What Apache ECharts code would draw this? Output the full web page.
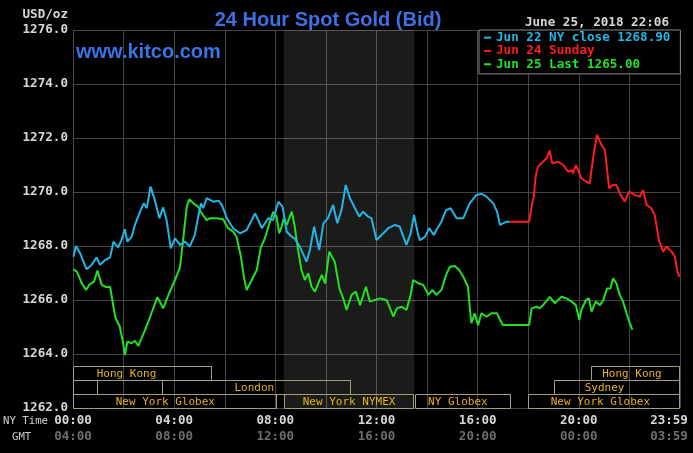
<!DOCTYPE html>
<html><head><meta charset="utf-8">
<script src="https://cdn.jsdelivr.net/npm/echarts@6/dist/echarts.min.js"></script>
<style>html,body{margin:0;padding:0;background:#000;}#c{width:693px;height:453px;}</style>
</head><body><div id="c"></div>
<script>
// ---- data (minutes after NY midnight, USD/oz) ----
const jun22Min = [1,7,17,32,44,56,64,76,88,96,107,115,123,129,139,147,159,168,175,184,194,205,214,222,232,242,254,266,277,289,297,304,309,317,333,345,353,365,380,396,412,432,448,463,475,487,497,507,519,526,538,554,562,572,584,594,605,617,627,637,647,657,669,679,688,700,708,720,732,748,764,775,791,801,809,819,823,835,845,856,862,874,885,896,910,926,941,957,969,981,997,1006,1013,1020,1029,1036];
const jun22Val = [1267.60,1268.00,1267.73,1267.14,1267.30,1267.58,1267.30,1267.48,1267.58,1268.16,1267.95,1268.22,1268.62,1268.16,1268.34,1268.78,1269.27,1269.58,1269.40,1270.20,1269.70,1269.03,1269.43,1268.96,1267.91,1268.28,1268.04,1268.16,1267.98,1268.41,1269.09,1269.58,1269.40,1269.77,1269.64,1269.68,1269.52,1269.03,1268.66,1268.47,1268.59,1269.21,1268.66,1269.03,1268.96,1269.64,1269.46,1268.53,1268.34,1268.28,1267.98,1267.42,1267.85,1268.72,1267.85,1268.84,1269.03,1269.52,1268.84,1269.33,1270.26,1269.77,1269.40,1269.09,1269.27,1269.09,1269.03,1268.22,1268.41,1268.66,1268.78,1268.72,1268.04,1268.47,1269.15,1268.40,1268.22,1268.34,1268.66,1268.41,1268.59,1268.90,1269.33,1269.40,1269.03,1269.03,1269.58,1269.89,1269.93,1269.83,1269.58,1269.27,1268.78,1268.84,1268.90,1268.90];

const jun24Min = [1036,1082,1088,1093,1098,1103,1115,1125,1131,1137,1151,1163,1175,1183,1186,1193,1206,1218,1226,1230,1236,1243,1254,1262,1267,1272,1280,1289,1297,1309,1319,1333,1345,1352,1361,1372,1380,1390,1400,1408,1420,1428,1434,1439];
const jun24Val = [1268.90,1268.90,1269.46,1269.83,1270.63,1270.94,1271.12,1271.28,1271.53,1271.06,1271.12,1271.00,1270.75,1270.81,1270.69,1271.00,1270.51,1270.38,1270.32,1270.81,1271.49,1272.11,1271.74,1271.56,1270.81,1270.14,1270.26,1270.26,1269.95,1269.64,1270.01,1269.89,1269.83,1270.07,1269.52,1269.40,1269.15,1268.22,1267.79,1267.98,1267.79,1267.60,1267.05,1266.86];

const jun25Min = [1,9,21,31,40,50,58,68,80,88,100,111,119,123,129,139,147,155,171,183,200,208,214,228,242,254,262,270,276,287,297,303,317,325,341,356,368,380,388,398,406,412,424,436,445,455,466,475,483,489,495,500,507,519,526,534,542,550,558,566,574,590,598,608,621,632,641,649,661,671,681,695,704,716,728,744,760,768,780,791,801,807,819,831,843,853,862,874,885,894,906,916,926,937,941,945,953,961,969,981,993,1006,1013,1020,1082,1088,1100,1107,1119,1131,1143,1159,1171,1183,1193,1201,1206,1217,1224,1230,1240,1250,1258,1267,1275,1281,1289,1297,1305,1313,1321,1327];
const jun25Val = [1267.14,1267.05,1266.62,1266.37,1266.59,1266.68,1267.09,1266.56,1266.47,1266.49,1265.38,1265.01,1264.40,1263.96,1264.46,1264.40,1264.49,1264.30,1264.89,1265.38,1266.10,1265.88,1265.69,1266.25,1266.74,1267.23,1268.34,1269.46,1269.73,1269.56,1269.46,1269.27,1268.96,1269.03,1269.03,1268.99,1268.66,1268.53,1268.34,1267.63,1266.80,1266.37,1266.74,1267.11,1267.91,1268.28,1268.84,1269.27,1269.09,1268.47,1268.72,1269.03,1268.78,1269.27,1268.72,1267.85,1267.11,1266.74,1266.99,1266.49,1266.31,1266.93,1266.62,1267.79,1267.42,1266.43,1266.06,1265.63,1266.19,1266.31,1265.81,1266.49,1265.94,1266.00,1266.06,1266.00,1265.38,1265.69,1265.75,1265.63,1266.19,1266.74,1266.62,1266.56,1266.19,1266.37,1266.19,1266.37,1266.93,1267.23,1267.26,1267.11,1266.86,1266.49,1265.75,1265.14,1265.51,1265.07,1265.51,1265.38,1265.51,1265.51,1265.26,1265.07,1265.07,1265.69,1265.75,1265.69,1265.88,1266.12,1265.88,1266.12,1266.06,1265.94,1265.81,1265.26,1265.63,1266.00,1266.06,1265.57,1265.94,1265.81,1266.00,1266.43,1266.43,1266.80,1266.62,1266.19,1265.94,1265.51,1265.14,1264.89];

const seriesNames = ['Jun 22 NY close 1268.90', 'Jun 24 Sunday', 'Jun 25 Last 1265.00'];

// trading sessions (minutes)
const sessionNames = ['Hong Kong', '', 'London', 'New York Globex', 'New York NYMEX', 'NY Globex', 'New York Globex', 'Sydney', 'Hong Kong'];
const sessionStart = [0, 0, 210, 0, 500, 812, 1080, 1140, 1230];
const sessionEnd   = [330, 60, 660, 483, 810, 1040, 1440, 1440, 1440];
const sessionRow   = [0, 1, 1, 2, 2, 2, 2, 1, 0];
const sessionLabelAt = [127, 30, 430, 219, 655, 913, 1251, 1261, 1326];

const nymexShade = [500, 810];
const yMin = 1262, yMax = 1276, yStep = 2;
const xMin = 0, xMax = 1440, xStep = 120;
const chartTitle = '24 Hour Spot Gold (Bid)';
const siteText = 'www.kitco.com';
const stampText = 'June 25, 2018 22:06';
const unitText = 'USD/oz';

// ---- build ----
const zip = (a, b) => a.map((v, i) => [v, b[i]]);
const colors = ['#25b4e6', '#ff1c1c', '#22e022'];
const mono = '"DejaVu Sans Mono", "Liberation Mono", monospace';
const pad2 = n => (n < 10 ? '0' : '') + n;

const chart = echarts.init(document.getElementById('c'), null, {renderer: 'canvas'});

const lineSeries = [zip(jun22Min, jun22Val), zip(jun24Min, jun24Val), zip(jun25Min, jun25Val)].map((d, i) => ({
  name: seriesNames[i],
  type: 'line',
  data: d,
  showSymbol: false,
  symbol: 'none',
  animation: false,
  lineStyle: {color: colors[i], width: 2},
  itemStyle: {color: colors[i]},
  z: 5 - i
}));

lineSeries[0].markArea = {
  silent: true,
  itemStyle: {color: 'rgba(255,255,235,0.105)'},
  data: [[{xAxis: nymexShade[0]}, {xAxis: nymexShade[1]}]]
};

const sessionData = sessionNames.map((n, i) => [sessionStart[i], sessionEnd[i], sessionRow[i], sessionLabelAt[i]]);

const option = {
  backgroundColor: '#000',
  animation: false,
  grid: {left: 73, right: 13, top: 30, bottom: 45, containLabel: false, outerBoundsMode: 'none'},
  title: [
    {text: chartTitle, left: 323, top: 5, textAlign: 'center',
     textStyle: {color: '#3f6fe4', fontSize: 20, fontWeight: 'bold', fontFamily: '"Liberation Sans", Arial, sans-serif'}}
  ],
  legend: {
    orient: 'vertical', left: 479, top: 30,
    padding: [1, 10, 3, 5], itemGap: 0,
    itemWidth: 7, itemHeight: 2, icon: 'rect',
    backgroundColor: '#000', borderColor: '#8a8a8a', borderWidth: 1, borderRadius: 0,
    selectedMode: false,
    textStyle: {fontFamily: mono, fontWeight: 'bold', fontSize: 12.6, lineHeight: 13.3},
    data: seriesNames.map((n, i) => ({name: n, textStyle: {color: colors[i]}}))
  },
  xAxis: {
    type: 'value', min: xMin, max: xMax, interval: xStep,
    axisLine: {show: false}, axisTick: {show: false},
    splitLine: {show: true, lineStyle: {color: '#454545', width: 1}},
    axisLabel: {
      show: true, margin: 5, hideOverlap: false, showMinLabel: true, showMaxLabel: true,
      formatter: function (v) {
        if (v === xMax) return '{a2|23:59}\n{b2|03:59}';
        if (v % 240 !== 0) return '';
        const h = v / 60;
        return '{a|' + pad2(h) + ':00}\n{b|' + pad2((h + 4) % 24) + ':00}';
      },
      rich: {
        a: {color: '#d8d8d8', fontFamily: mono, fontWeight: 'bold', fontSize: 12.5, lineHeight: 16},
        b: {color: '#6e6e6e', fontFamily: mono, fontWeight: 'bold', fontSize: 12.5, lineHeight: 16},
        a2: {color: '#d8d8d8', fontFamily: mono, fontWeight: 'bold', fontSize: 12.5, lineHeight: 16, padding: [0, 22, 0, 0]},
        b2: {color: '#6e6e6e', fontFamily: mono, fontWeight: 'bold', fontSize: 12.5, lineHeight: 16, padding: [0, 22, 0, 0]}
      }
    }
  },
  yAxis: {
    type: 'value', min: yMin, max: yMax, interval: yStep,
    axisLine: {show: false}, axisTick: {show: false},
    splitLine: {show: true, lineStyle: {color: '#454545', width: 1}},
    axisLabel: {
      margin: 5, color: '#d8d8d8', fontFamily: mono, fontWeight: 'bold', fontSize: 12.6,
      showMinLabel: true, showMaxLabel: true,
      formatter: v => v.toFixed(1)
    }
  },
  graphic: [
    {type: 'text', left: 76, top: 42, style: {text: siteText, fill: '#3a74e6', font: 'bold 20px "Liberation Sans", Arial, sans-serif'}, z: 10},
    {type: 'text', x: 669, y: 22.5, style: {text: stampText, fill: '#d8d8d8', align: 'right', verticalAlign: 'middle', font: 'bold 12.6px ' + mono}},
    {type: 'text', x: 68, y: 14.5, style: {text: unitText, fill: '#d8d8d8', align: 'right', verticalAlign: 'middle', font: 'bold 12.6px ' + mono}},
    {type: 'text', x: 3, y: 421, style: {text: 'NY Time', fill: '#d0d0d0', align: 'left', verticalAlign: 'middle', font: '10.7px ' + mono}},
    {type: 'text', x: 12, y: 437, style: {text: 'GMT', fill: '#c8c8c8', align: 'left', verticalAlign: 'middle', font: '10.7px ' + mono}}
  ],
  series: lineSeries.concat([{
    type: 'custom',
    name: 'sessions',
    silent: true,
    clip: false,
    z: 3,
    dimensions: ['start', 'end', 'row', 'labelAt'],
    encode: {x: [0, 1]},
    data: sessionData,
    renderItem: function (params, api) {
      const s = api.value(0), e = api.value(1), row = api.value(2), lab = api.value(3);
      const name = sessionNames[params.dataIndex];
      const p0 = api.coord([s, yMin]);
      const p1 = api.coord([e, yMin]);
      const h = 14;
      const top = Math.round(p0[1]) - (3 - row) * h;
      const children = [{
        type: 'rect',
        shape: {x: Math.round(p0[0]) + 0.5, y: top + 0.5, width: Math.round(p1[0]) - Math.round(p0[0]) - 1, height: h},
        style: {fill: 'none', stroke: '#a39d7d', lineWidth: 1}
      }];
      if (name) {
        children.push({
          type: 'text',
          style: {text: name, x: api.coord([lab, yMin])[0], y: top + h / 2 + 1, align: 'center', verticalAlign: 'middle',
                  fill: '#e3b21c', font: '11px ' + mono}
        });
      }
      return {type: 'group', children: children};
    }
  }])
};

chart.setOption(option);
</script></body></html>
